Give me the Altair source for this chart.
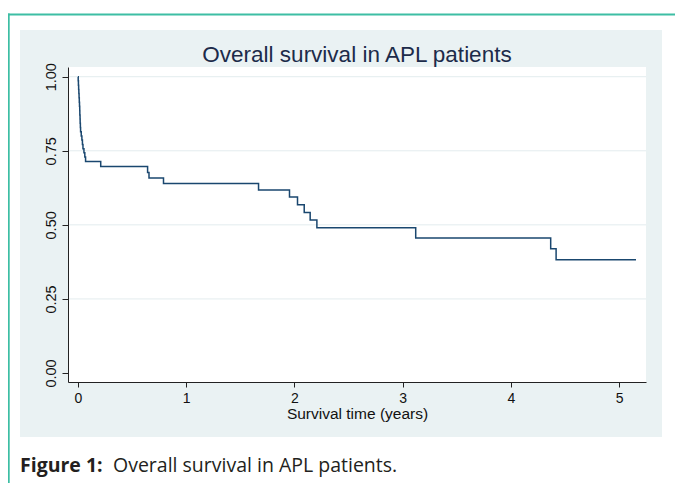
import altair as alt
import pandas as pd

# Kaplan-Meier step data
times = [0.0, 0.002, 0.004, 0.006, 0.008, 0.010, 0.012, 0.014, 0.016, 0.017,
         0.019, 0.020, 0.022, 0.024, 0.030, 0.036, 0.041, 0.046, 0.055, 0.063,
         0.070, 0.21, 0.643, 0.656, 0.79, 1.668, 1.954, 2.028, 2.09, 2.145,
         2.207, 3.12, 4.367, 4.417, 5.155]
surv = [1.0, 0.986, 0.971, 0.957, 0.943, 0.929, 0.914, 0.900, 0.886, 0.871,
        0.857, 0.843, 0.829, 0.814, 0.800, 0.786, 0.771, 0.757, 0.743, 0.729,
        0.714, 0.697, 0.677, 0.658, 0.640, 0.618, 0.594, 0.568, 0.542, 0.516,
        0.490, 0.456, 0.419, 0.382, 0.382]
x_ticks = [0, 1, 2, 3, 4, 5]
y_ticks = [0.0, 0.25, 0.5, 0.75, 1.0]
grid_vals = [0.25, 0.5, 0.75, 1.0]

title_text = "Overall survival in APL patients"
x_title = "Survival time (years)"
cap_bold = "Figure 1:"
cap_rest = "Overall survival in APL patients."

W, H = 578, 315
km = pd.DataFrame({"t": times, "s": surv})
grid = pd.DataFrame({"g": grid_vals})
one = pd.DataFrame({"a": [0]})

xscale = alt.Scale(domain=[-0.0923, 5.2475], nice=False, zero=False)
yscale = alt.Scale(domain=[-0.0304, 1.0328], nice=False, zero=False)

teal = "#3dbea4"
panel = "#eaf2f3"

bg = alt.Chart(one).mark_rect(color=panel).encode(
    x=alt.value(-48), x2=alt.value(594), y=alt.value(-37), y2=alt.value(370))
white = alt.Chart(one).mark_rect(color="white").encode(
    x=alt.value(0), x2=alt.value(W), y=alt.value(0), y2=alt.value(H))
teal_top = alt.Chart(one).mark_rect(color=teal).encode(
    x=alt.value(-61), x2=alt.value(607), y=alt.value(-53.5), y2=alt.value(-51.5))
teal_left = alt.Chart(one).mark_rect(color=teal).encode(
    x=alt.value(-60), x2=alt.value(-58.3), y=alt.value(-53.5), y2=alt.value(416))

gridlines = alt.Chart(grid).mark_rule(color="#e3ecee", strokeWidth=1).encode(
    y=alt.Y("g:Q", scale=yscale),
    x=alt.value(0), x2=alt.value(W))

line = alt.Chart(km).mark_line(interpolate="step-after", color="#1a476f",
                               strokeWidth=1.5).encode(
    x=alt.X("t:Q", scale=xscale,
            axis=alt.Axis(values=x_ticks, title=x_title, format="d",
                          grid=False, zindex=1, domainColor="#222",
                          tickColor="#222", tickSize=5, labelPadding=4,
                          labelFontSize=14, labelColor="#111",
                          labelFont="Liberation Sans", titleFont="Liberation Sans",
                          titleFontSize=15.5, titleFontWeight="normal",
                          titleColor="#111", titlePadding=1)),
    y=alt.Y("s:Q", scale=yscale,
            axis=alt.Axis(values=y_ticks, title=None, format=".2f",
                          grid=False, zindex=1, domainColor="#222",
                          tickColor="#222", tickSize=6, labelPadding=4,
                          labelAngle=270, labelAlign="center",
                          labelBaseline="bottom", labelFontSize=14.5,
                          labelColor="#111", labelFont="Liberation Sans")))

title = alt.Chart(one).mark_text(text=title_text, fontSize=22.5,
                                 font="Liberation Sans", color="#1c2b4a",
                                 align="center", baseline="middle").encode(
    x=alt.value(W / 2), y=alt.value(-12))

cap1 = alt.Chart(one).mark_text(text=cap_bold, fontSize=19.5, font="Open Sans",
                                fontWeight="bold", color="#231f20",
                                align="left", baseline="middle").encode(
    x=alt.value(-48), y=alt.value(399))
cap2 = alt.Chart(one).mark_text(text=cap_rest, fontSize=19.5, font="Open Sans",
                                color="#231f20", align="left",
                                baseline="middle").encode(
    x=alt.value(45), y=alt.value(399))

chart = alt.layer(bg, white, teal_top, teal_left, gridlines, line, title,
                  cap1, cap2).properties(
    width=W, height=H,
    padding={"left": 60, "top": 59, "right": 29, "bottom": 101},
    autosize=alt.AutoSizeParams(type="none"),
    background="white",
).configure_view(stroke=None)

chart.save("out.html", embed_options={"renderer": "svg", "actions": False})
